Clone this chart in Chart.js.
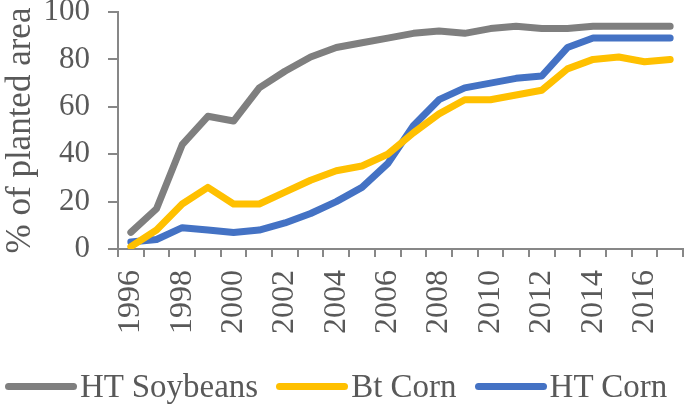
<!DOCTYPE html>
<html>
<head>
<meta charset="utf-8">
<script src="https://cdn.jsdelivr.net/npm/chart.js@4"></script>
<style>
  body { margin: 0; background: #fff; }
  #wrap { position: relative; width: 685px; height: 404px; }
  #legend {
    position: absolute; left: 5px; top: 366px; height: 40px;
    display: flex; align-items: center; gap: 18px;
    font-family: "Liberation Serif", serif; font-size: 33px; color: #595959;
  }
  .item { display: flex; align-items: center; white-space: nowrap; }
  .swatch { width: 72px; height: 7px; border-radius: 4px; margin-right: 3px; }
</style>
</head>
<body>
<div id="wrap">
  <canvas id="chart" width="685" height="404"></canvas>
  <div id="legend"></div>
</div>
<script>
// years on the x axis
const years = ['1996', '1997', '1998', '1999', '2000', '2001', '2002', '2003', '2004', '2005', '2006',
  '2007', '2008', '2009', '2010', '2011', '2012', '2013', '2014', '2015', '2016', '2017'];

// % of planted area
const htSoybeans = [7, 17, 44, 56, 54, 68, 75, 81, 85, 87, 89, 91, 92, 91, 93, 94, 93, 93, 94, 94, 94, 94];
const btCorn = [1, 8, 19, 26, 19, 19, 24, 29, 33, 35, 40, 49, 57, 63, 63, 65, 67, 76, 80, 81, 79, 80];
const htCorn = [3, 4, 9, 8, 7, 8, 11, 15, 20, 26, 36, 52, 63, 68, 70, 72, 73, 85, 89, 89, 89, 89];

const textColor = '#595959';
const axisColor = '#878787';

const makeSet = (label, data, color) => ({
  label: label,
  data: data,
  borderColor: color,
  backgroundColor: color,
  borderWidth: 7,
  borderCapStyle: 'round',
  borderJoinStyle: 'round',
  pointRadius: 0,
  tension: 0,
  fill: false
});

const chart = new Chart(document.getElementById('chart'), {
  type: 'line',
  data: {
    labels: years,
    datasets: [
      makeSet('HT Soybeans', htSoybeans, '#7f7f7f'),
      makeSet('Bt Corn', btCorn, '#ffc000'),
      makeSet('HT Corn', htCorn, '#4472c4')
    ]
  },
  options: {
    responsive: false,
    animation: false,
    layout: { padding: { top: 12, right: 2, left: 0, bottom: 0 } },
    plugins: {
      legend: { display: false },
      tooltip: { enabled: false }
    },
    scales: {
      x: {
        type: 'category',
        offset: true,
        grid: { display: true, drawOnChartArea: false, drawTicks: true, tickLength: 8, offset: true, color: axisColor, lineWidth: 2 },
        border: { display: true, color: axisColor, width: 2 },
        ticks: {
          autoSkip: false,
          minRotation: 90,
          maxRotation: 90,
          padding: 13,
          color: textColor,
          font: { family: 'Liberation Serif', size: 32 },
          callback: function (val, i) { return i % 2 === 0 ? years[i] : ''; }
        },
        afterFit: function (scale) {
          scale.height = 155;
          scale.paddingLeft = 0;
          scale.paddingRight = 0;
        }
      },
      y: {
        min: 0,
        max: 100,
        grid: { display: true, drawOnChartArea: false, drawTicks: true, tickLength: 10, color: axisColor, lineWidth: 2 },
        border: { display: true, color: axisColor, width: 2 },
        ticks: {
          stepSize: 20,
          padding: 18,
          color: textColor,
          font: { family: 'Liberation Serif', size: 31 }
        },
        title: {
          display: true,
          text: '% of planted area',
          color: textColor,
          padding: 0,
          font: { family: 'Liberation Serif', size: 35 }
        },
        afterFit: function (scale) {
          scale.width = 118;
          scale.paddingTop = 0;
          scale.paddingBottom = 0;
        }
      }
    }
  }
});

// html legend built from the datasets
const legend = document.getElementById('legend');
chart.data.datasets.forEach(function (ds) {
  const item = document.createElement('div');
  item.className = 'item';
  const sw = document.createElement('span');
  sw.className = 'swatch';
  sw.style.background = ds.borderColor;
  const txt = document.createElement('span');
  txt.textContent = ds.label;
  item.appendChild(sw);
  item.appendChild(txt);
  legend.appendChild(item);
});
</script>
</body>
</html>
